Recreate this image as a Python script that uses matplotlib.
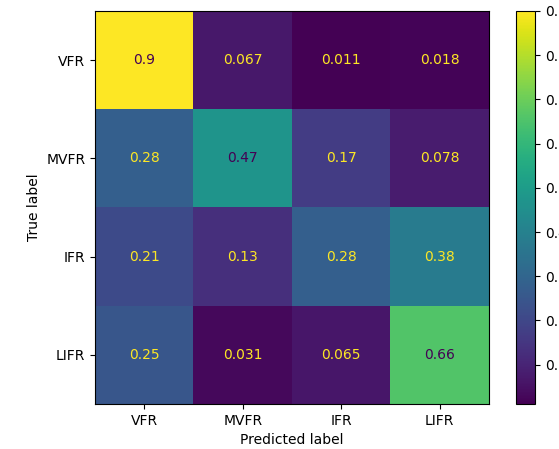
import matplotlib
matplotlib.use("Agg")
import matplotlib.pyplot as plt
import numpy as np

labels = ["VFR", "MVFR", "IFR", "LIFR"]
row_vfr = [0.9, 0.067, 0.011, 0.018]
row_mvfr = [0.28, 0.47, 0.17, 0.078]
row_ifr = [0.21, 0.13, 0.28, 0.38]
row_lifr = [0.25, 0.031, 0.065, 0.66]

cm = np.array([row_vfr, row_mvfr, row_ifr, row_lifr])

fig = plt.figure(figsize=(5.59, 4.49), dpi=100)
ax = fig.add_axes([95/559, 45/449, 394/559, 393/449])
cax = fig.add_axes([516/559, 45/449, 19/559, 393/449])

cmap = plt.get_cmap("viridis")
im = ax.imshow(cm, cmap=cmap, interpolation="nearest", aspect="auto")
vmin, vmax = cm.min(), cm.max()
thresh = (vmin + vmax) / 2
for i in range(cm.shape[0]):
    for j in range(cm.shape[1]):
        color = cmap(0.0) if cm[i, j] > thresh else cmap(1.0)
        ax.text(j, i, format(cm[i, j], ".2g"), ha="center", va="center", color=color, fontsize=10)

ax.set_xticks(range(4))
ax.set_xticklabels(labels)
ax.set_yticks(range(4))
ax.set_yticklabels(labels)
ax.set_xlabel("Predicted label")
ax.set_ylabel("True label")

cb = fig.colorbar(im, cax=cax)
cb.set_ticks([0.1, 0.2, 0.3, 0.4, 0.5, 0.6, 0.7, 0.8, 0.9])

fig.savefig("out.png", dpi=100)
